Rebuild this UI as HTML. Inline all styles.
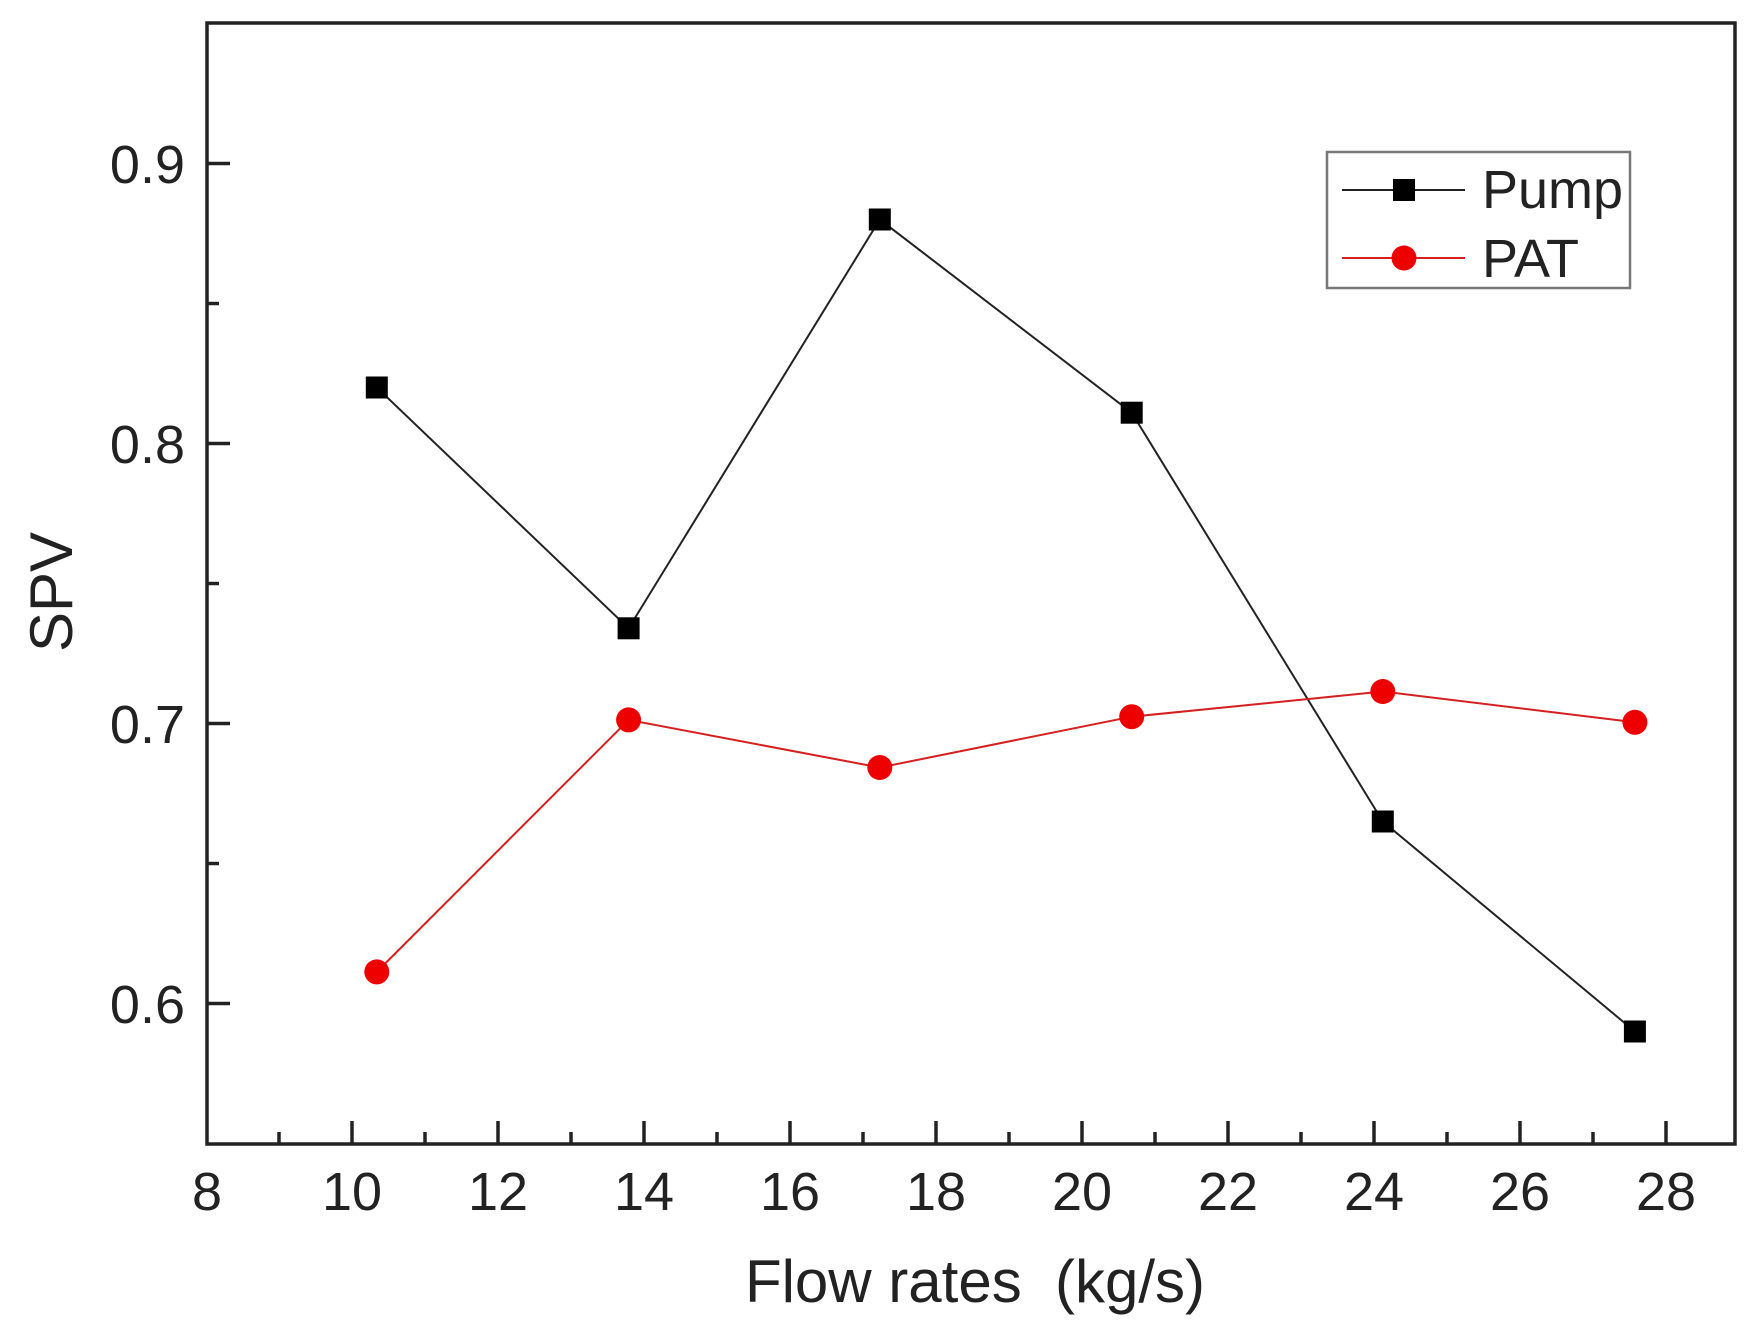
<!DOCTYPE html>
<html><head><meta charset="utf-8"><style>body{margin:0;background:#fff}svg{display:block}</style></head>
<body>
<svg width="1752" height="1335" xmlns="http://www.w3.org/2000/svg" font-family="Liberation Sans, Arial, sans-serif">
<rect width="1752" height="1335" fill="#fff"/>
<rect x="207" y="23" width="1528" height="1121" fill="none" stroke="#222" stroke-width="3.5"/>
<g stroke="#222" stroke-width="3.5">
<line x1="352" y1="1144" x2="352" y2="1121"/><line x1="498" y1="1144" x2="498" y2="1121"/>
<line x1="644" y1="1144" x2="644" y2="1121"/><line x1="790" y1="1144" x2="790" y2="1121"/>
<line x1="936" y1="1144" x2="936" y2="1121"/><line x1="1082" y1="1144" x2="1082" y2="1121"/>
<line x1="1228" y1="1144" x2="1228" y2="1121"/><line x1="1374" y1="1144" x2="1374" y2="1121"/>
<line x1="1520" y1="1144" x2="1520" y2="1121"/><line x1="1666" y1="1144" x2="1666" y2="1121"/>
<line x1="279" y1="1144" x2="279" y2="1132"/><line x1="425" y1="1144" x2="425" y2="1132"/>
<line x1="571" y1="1144" x2="571" y2="1132"/><line x1="717" y1="1144" x2="717" y2="1132"/>
<line x1="863" y1="1144" x2="863" y2="1132"/><line x1="1009" y1="1144" x2="1009" y2="1132"/>
<line x1="1155" y1="1144" x2="1155" y2="1132"/><line x1="1301" y1="1144" x2="1301" y2="1132"/>
<line x1="1447" y1="1144" x2="1447" y2="1132"/><line x1="1593" y1="1144" x2="1593" y2="1132"/>
<line x1="207" y1="163.5" x2="230" y2="163.5"/><line x1="207" y1="443.5" x2="230" y2="443.5"/>
<line x1="207" y1="723.5" x2="230" y2="723.5"/><line x1="207" y1="1003.5" x2="230" y2="1003.5"/>
<line x1="207" y1="303.5" x2="219" y2="303.5"/><line x1="207" y1="583.5" x2="219" y2="583.5"/>
<line x1="207" y1="863.5" x2="219" y2="863.5"/>
</g>
<g font-size="54" fill="#222" text-anchor="middle">
<text x="207" y="1210">8</text><text x="352" y="1210">10</text><text x="498" y="1210">12</text>
<text x="644" y="1210">14</text><text x="790" y="1210">16</text><text x="936" y="1210">18</text>
<text x="1082" y="1210">20</text><text x="1228" y="1210">22</text><text x="1374" y="1210">24</text>
<text x="1520" y="1210">26</text><text x="1666" y="1210">28</text>
</g>
<g font-size="54" fill="#222" text-anchor="end">
<text x="185" y="183">0.9</text><text x="185" y="463">0.8</text>
<text x="185" y="743">0.7</text><text x="185" y="1023">0.6</text>
</g>
<text x="975" y="1302" font-size="60" fill="#222" text-anchor="middle" xml:space="preserve">Flow rates  (kg/s)</text>
<text transform="translate(72,592) rotate(-90)" font-size="60" fill="#222" text-anchor="middle">SPV</text>
<polyline fill="none" stroke="#222" stroke-width="2" points="376.8,387.5 628.6,628.3 879.8,219.5 1131.7,412.7 1382.8,821.5 1634.9,1031.5"/>
<polyline fill="none" stroke="#d42020" stroke-width="2" points="376.8,971.9 628.6,719.9 879.8,767.5 1131.7,716.7 1382.8,691.5 1634.9,722.3"/>
<g fill="#000">
<rect x="365.8" y="376.5" width="22" height="22"/><rect x="617.6" y="617.3" width="22" height="22"/>
<rect x="868.8" y="208.5" width="22" height="22"/><rect x="1120.7" y="401.7" width="22" height="22"/>
<rect x="1371.8" y="810.5" width="22" height="22"/><rect x="1623.9" y="1020.5" width="22" height="22"/>
</g>
<g fill="#ee0000">
<circle cx="376.8" cy="971.9" r="12.5"/><circle cx="628.6" cy="719.9" r="12.5"/>
<circle cx="879.8" cy="767.5" r="12.5"/><circle cx="1131.7" cy="716.7" r="12.5"/>
<circle cx="1382.8" cy="691.5" r="12.5"/><circle cx="1634.9" cy="722.3" r="12.5"/>
</g>
<rect x="1327" y="152" width="303" height="136" fill="#fff" stroke="#777" stroke-width="2.5"/>
<line x1="1342" y1="190" x2="1465" y2="190" stroke="#222" stroke-width="2"/>
<rect x="1393" y="179" width="22" height="22" fill="#000"/>
<line x1="1342" y1="258" x2="1465" y2="258" stroke="#d42020" stroke-width="2"/>
<circle cx="1404" cy="258" r="12.5" fill="#ee0000"/>
<text x="1482" y="208" font-size="54" fill="#222">Pump</text>
<text x="1482" y="277" font-size="54" fill="#222">PAT</text>
</svg>
</body></html>
